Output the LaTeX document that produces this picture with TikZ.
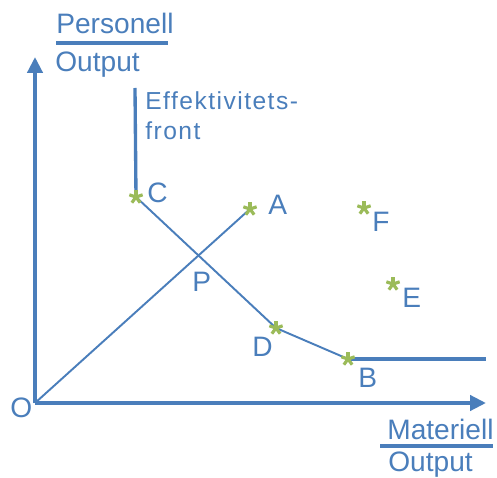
\documentclass[tikz,border=0pt]{standalone}
\usepackage{fontspec}
\setmainfont{Liberation Sans}
\usetikzlibrary{arrows.meta}
\definecolor{frontblue}{RGB}{74,126,187}
\definecolor{stargreen}{RGB}{155,187,89}
\tikzset{
  lbl/.style={text=frontblue, font=\fontsize{16}{19}\selectfont, inner sep=0pt, anchor=base west},
  smalllbl/.style={lbl, font=\fontsize{14}{17}\selectfont\addfontfeature{LetterSpace=6}},
  axisline/.style={frontblue, line width=2.2pt},
  thickline/.style={frontblue, line width=1.9pt},
  thinline/.style={frontblue, line width=1.1pt},
  asterisk/.pic={\foreach \a in {90,162,...,378} \draw[stargreen, line width=1.8pt] (0,0) -- (\a:4pt);}
}
\begin{document}
\begin{tikzpicture}[x=0.02cm, y=0.02cm]
  \useasboundingbox (0,0) rectangle (497,477);
  \coordinate (O) at (35,74);
  \coordinate (Ytop) at (35,420);
  \coordinate (Xend) at (486,74);
  \coordinate (Ftop) at (135,389);
  \coordinate (C) at (136,280);
  \coordinate (A) at (250,268);
  \coordinate (D) at (276,149);
  \coordinate (B) at (348,118);
  \coordinate (Bend) at (486,118);
  \coordinate (E) at (393,193);
  \coordinate (F) at (364,269);
  \coordinate (P) at (intersection of C--D and O--A);

  % axes
  \draw[axisline, -{Triangle[length=9pt, width=8.5pt]}] (O) -- (Ytop);
  \draw[axisline, -{Triangle[length=9pt, width=8.5pt]}] (O) -- (Xend);

  % front
  \draw[thickline] (Ftop) -- (C);
  \draw[thinline] (C) -- (D) -- (B);
  \draw[thickline] (B) -- (Bend);
  \draw[thinline] (O) -- (A);

  \foreach \p in {A,B,C,D,E,F} \pic at (\p) {asterisk};

  % labels
  \node[lbl] (labO) at (10,60) {O};
  \node[lbl] (labA) at (268,262) {A};
  \node[lbl] (labB) at (358,90) {B};
  \node[lbl] (labC) at (147,274) {C};
  \node[lbl] (labD) at (252,120) {D};
  \node[lbl] (labE) at (402,170) {E};
  \node[lbl] (labF) at (372,245) {F};
  \node[lbl] (labP) at (192,185) {P};
  \node[smalllbl] (front1) at (145,367) {Effektivitets-};
  \node[smalllbl] (front2) at (145,337) {front};

  % axis titles
  \node[lbl] (pers) at (56,443) {Personell};
  \draw[thickline] (56,434) -- (168,434);
  \node[lbl] (persout) at (55,405) {Output};
  \node[lbl] (mat) at (387,38) {Materiell};
  \draw[thickline] (380,31) -- (493,31);
  \node[lbl] (matout) at (388,6) {Output};
\end{tikzpicture}
\end{document}
